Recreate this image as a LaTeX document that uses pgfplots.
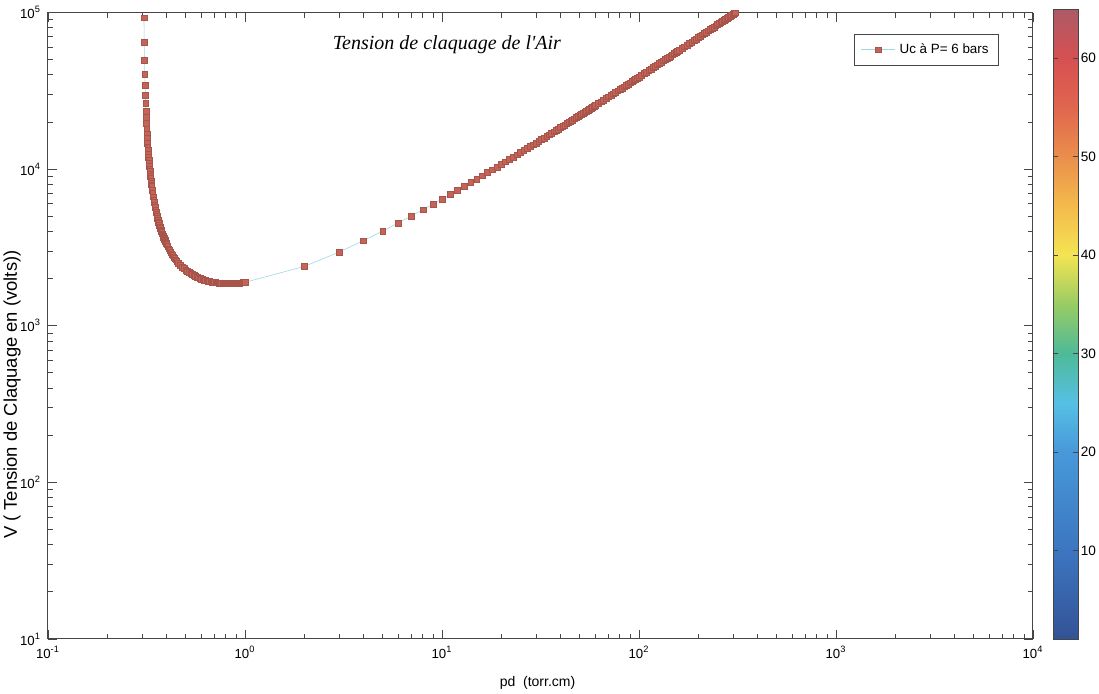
\documentclass[border=0pt]{standalone}
\usepackage{fontspec}
\setmainfont{Liberation Sans}
\newfontfamily\titlefont{Liberation Serif}
\usepackage{pgfplots}
\usepackage{pgfplotstable}
\pgfplotsset{compat=1.18}

\definecolor{markc}{RGB}{196,100,88}
\definecolor{linec}{RGB}{160,215,228}
\definecolor{axc}{RGB}{70,70,70}

\pgfplotsset{
  colormap={scanjet}{rgb255(0cm)=(52,82,150); rgb255(9cm)=(60,118,192);
    rgb255(19cm)=(72,152,218); rgb255(24cm)=(86,192,228); rgb255(29cm)=(78,186,152);
    rgb255(34cm)=(152,204,100); rgb255(39cm)=(244,228,82); rgb255(44cm)=(244,186,76);
    rgb255(49cm)=(234,142,76); rgb255(54cm)=(224,102,78); rgb255(59cm)=(214,80,82);
    rgb255(64cm)=(172,90,102)}
}

% breakdown voltage of air, P = 6 bars
\pgfplotstableread{
pd V
0.307 92776
0.308 64800
0.309 49897
0.310 40643
0.311 34335
0.312 29762
0.313 26294
0.314 23573
0.315 21382
0.316 19580
0.317 18070
0.318 16789
0.319 15687
0.320 14729
0.321 13890
0.322 13147
0.323 12486
0.324 11894
0.325 11360
0.326 10876
0.327 10436
0.328 10034
0.329 9665
0.330 9325
0.331 9011
0.332 8720
0.333 8450
0.334 8198
0.335 7963
0.336 7744
0.338 7344
0.340 6989
0.342 6673
0.344 6389
0.346 6133
0.348 5901
0.350 5689
0.352 5496
0.354 5318
0.356 5155
0.358 5003
0.360 4863
0.362 4733
0.364 4611
0.366 4498
0.368 4392
0.370 4293
0.372 4199
0.374 4111
0.376 4028
0.378 3950
0.380 3876
0.382 3806
0.384 3740
0.386 3676
0.388 3616
0.390 3559
0.392 3505
0.394 3453
0.396 3404
0.398 3356
0.400 3311
0.405 3206
0.410 3111
0.415 3026
0.420 2948
0.425 2877
0.430 2812
0.435 2752
0.440 2697
0.445 2646
0.450 2599
0.46 2515
0.47 2443
0.48 2379
0.49 2323
0.50 2274
0.51 2230
0.52 2191
0.53 2156
0.54 2125
0.55 2097
0.56 2072
0.57 2050
0.58 2029
0.59 2011
0.60 1994
0.61 1979
0.62 1966
0.63 1953
0.64 1942
0.65 1932
0.66 1923
0.67 1915
0.68 1908
0.69 1901
0.70 1895
0.71 1890
0.72 1886
0.73 1882
0.74 1878
0.75 1875
0.76 1873
0.77 1871
0.78 1869
0.79 1868
0.80 1867
0.81 1866
0.82 1865
0.83 1865
0.84 1866
0.85 1866
0.86 1867
0.87 1868
0.88 1869
0.89 1870
0.90 1871
0.91 1873
0.92 1875
0.93 1877
0.94 1879
0.95 1882
0.96 1884
0.97 1887
0.98 1889
0.99 1892
1.00 1895
2 2394
3 2954
4 3499
5 4025
6 4534
7 5030
8 5513
9 5987
10 6451
11 6908
12 7357
13 7800
14 8237
15 8670
16 9097
17 9520
18 9938
19 10353
20 10765
21 11173
22 11577
23 11979
24 12378
25 12774
26 13168
27 13560
28 13949
29 14336
30 14720
31 15103
32 15484
33 15863
34 16240
35 16616
36 16990
37 17362
38 17733
39 18102
40 18470
41 18836
42 19201
43 19565
44 19927
45 20288
46 20648
47 21007
48 21365
49 21721
50 22077
51 22431
52 22785
53 23137
54 23489
55 23839
56 24189
57 24537
58 24885
59 25232
60 25578
62 26268
64 26954
66 27637
68 28317
70 28995
72 29669
74 30341
76 31011
78 31678
80 32342
82 33005
84 33665
86 34323
88 34979
90 35632
92 36283
94 36933
96 37581
98 38227
100 38871
103 39834
106 40793
109 41749
112 42700
115 43649
118 44593
121 45536
124 46474
127 47410
130 48343
133 49273
136 50200
139 51125
142 52047
145 52966
148 53883
151 54797
154 55709
157 56619
160 57528
165 59034
170 60536
175 62032
180 63523
185 65008
190 66489
195 67964
200 69435
205 70901
210 72362
215 73819
220 75272
225 76721
230 78166
235 79606
240 81044
245 82477
250 83907
255 85333
260 86756
265 88175
270 89592
275 91005
280 92415
285 93822
290 95226
295 96626
300 98025
305 99420
307 99977
}\paschen

\begin{document}
\begin{tikzpicture}
\begin{axis}[
    scale only axis,
    width=492.5pt, height=313.2pt,
    xmode=log, ymode=log,
    log basis x=10, log basis y=10,
    xmin=0.1, xmax=1e4,
    ymin=10, ymax=1e5,
    axis line style={axc, line width=0.5pt},
    tick style={axc, line width=0.45pt},
    major tick length=4.5pt, minor tick length=2.5pt,
    tick align=inside, xtick pos=both, ytick pos=both,
    xticklabel={\pgfmathparse{int(round(\tick))}10\textsuperscript{\pgfmathresult}},
    yticklabel={\pgfmathparse{int(round(\tick))}10\textsuperscript{\pgfmathresult}},
    ticklabel style={font=\fontsize{6.6}{7}\selectfont},
    xlabel={pd\ \ (torr.cm)},
    xlabel style={at={(axis description cs:0.497,0)}, anchor=center,
        yshift=-22pt, font=\fontsize{7}{8}\selectfont},
    ylabel={V ( Tension de Claquage en (volts))},
    ylabel style={at={(axis description cs:0,0.39)}, anchor=center,
        yshift=18pt, font=\fontsize{9.2}{10}\selectfont},
    legend style={at={(0.9655,0.966)}, anchor=north east,
        font=\fontsize{6.7}{8}\selectfont, draw=axc, line width=0.4pt,
        inner xsep=3pt, inner ysep=2.5pt, cells={anchor=west}},
    colormap name=scanjet,
    point meta min=1, point meta max=65,
    colorbar,
    colorbar style={
        at={(parent axis.south east)}, anchor=south west,
        xshift=1.5pt,
        scale only axis, width=12.5pt, height=315pt,
        ytick={10,20,30,40,50,60},
        ytick pos=both, yticklabel pos=right,
        tick align=inside, major tick length=2.5pt,
        tick style={axc, line width=0.45pt},
        axis line style={axc, line width=0.4pt},
        /pgf/number format/assume math mode=true,
        yticklabel style={font=\fontsize{6.8}{8}\selectfont, inner xsep=1.2pt},
    },
]

\addplot[color=linec, line width=0.3pt,
    mark=square*, mark size=1.45pt,
    mark options={fill=markc, draw=markc!85!black, line width=0.2pt}]
    table[x=pd, y=V] {\paschen};
\addlegendentry{Uc à P= 6 bars}

\node[font=\titlefont\itshape\fontsize{10}{12}\selectfont, anchor=center]
    at (rel axis cs:0.405,0.948) {Tension de claquage de l'Air};

\end{axis}
\pgfresetboundingbox
\path[use as bounding box] (-24pt,-27.5pt) rectangle (525.5pt,319.5pt);
\end{tikzpicture}
\end{document}
